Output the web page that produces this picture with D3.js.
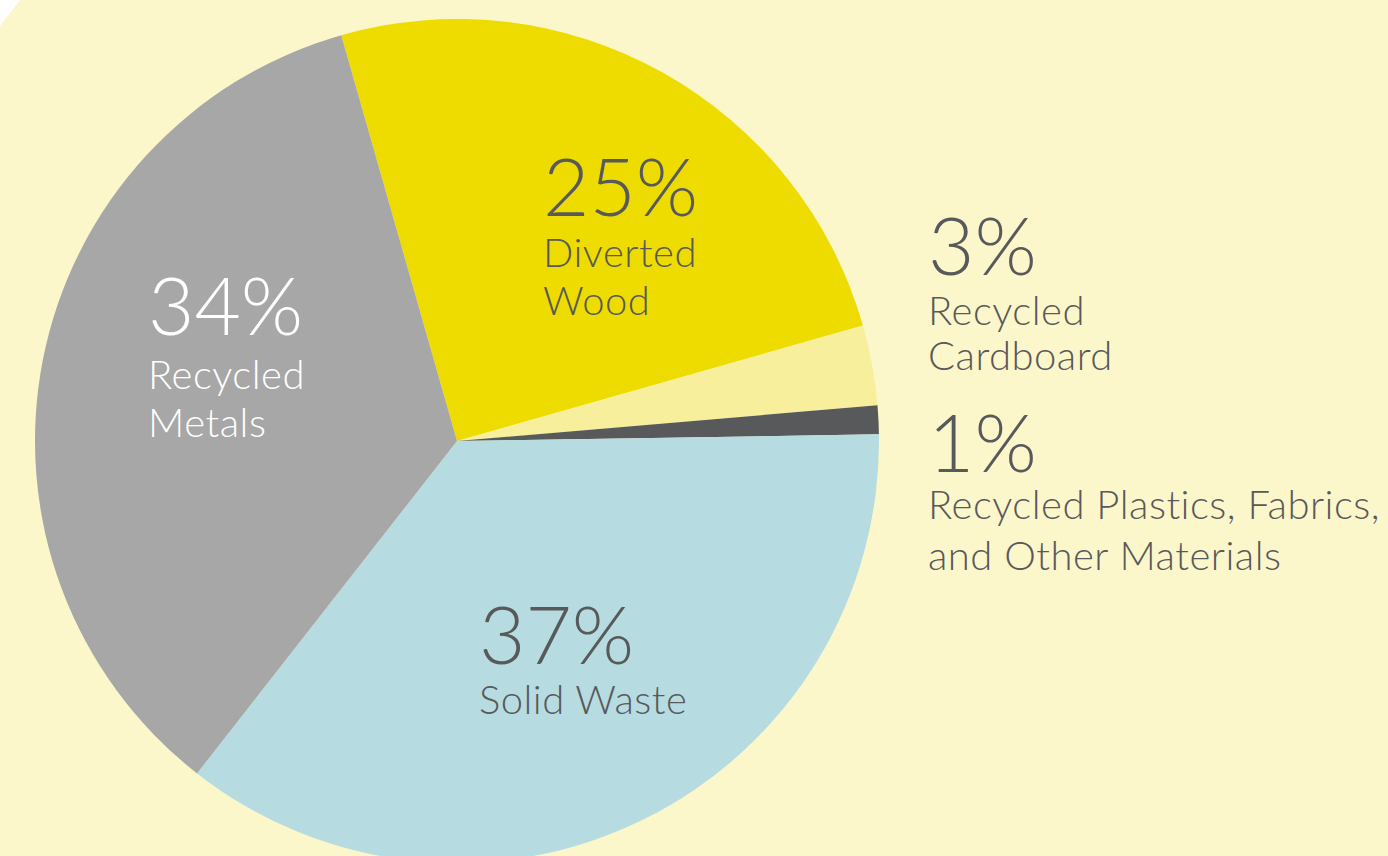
<!DOCTYPE html>
<html>
<head>
<meta charset="utf-8">
<script src="https://cdn.jsdelivr.net/npm/d3@7"></script>
<style>
  body { margin: 0; background: #fcf6cb; overflow: hidden; }
  text { font-family: Lato, "Open Sans", sans-serif; font-weight: 300; }
</style>
</head>
<body>
<svg id="main" width="1388" height="856"></svg>
<script>
// slices in drawing order, clockwise from the top-left
var categories = ["Diverted Wood", "Recycled Cardboard", "Recycled Plastics, Fabrics, and Other Materials", "Solid Waste", "Recycled Metals"];
var shares = [25, 3.06, 1.1, 35.8, 35];   // share of the circle as drawn
var pctLabels = ["25%", "3%", "1%", "37%", "34%"];
var labelLines = [
    ["Diverted", "Wood"],
    ["Recycled", "Cardboard"],
    ["Recycled Plastics, Fabrics,", "and Other Materials"],
    ["Solid Waste"],
    ["Recycled", "Metals"]
];
var colours = ["#eedc00", "#f7ef9b", "#58595b", "#b6dce1", "#a6a7a6"];

function drawPie(){
    var svg = d3.select("#main");
    var cx = 457, cy = 441, r = 422;

    // little white corner at the top left
    svg.append("path")
        .attr("d", "M0,0 L20,0 L0,26 Z")
        .attr("fill", "#ffffff");

    var data = categories.map(function(c, i){
        return {id: c, value: shares[i], pct: pctLabels[i], lines: labelLines[i]};
    });

    var pie = d3.pie()
        .sort(null)
        .value(d => d.value)
        .startAngle(-15.92 * Math.PI / 180)
        .endAngle((360 - 15.92) * Math.PI / 180);

    var arc = d3.arc().innerRadius(0).outerRadius(r);

    var g = svg.append("g").attr("transform", "translate(" + cx + "," + cy + ")");
    g.selectAll("path.slice")
        .data(pie(data))
        .enter()
        .append("path")
        .attr("class", "slice")
        .attr("d", arc)
        .attr("fill", (d, i) => colours[i]);

    // label placement: x, percent baseline, first line baseline, line step, colour
    var place = [
        {x: 543, y: 216, y1: 266.5, step: 48, fill: "#58595b"},
        {x: 928, y: 275, y1: 325, step: 45, fill: "#58595b"},
        {x: 928, y: 471.5, y1: 518.5, step: 51, fill: "#58595b"},
        {x: 479, y: 664, y1: 714, step: 48, fill: "#58595b"},
        {x: 148, y: 335, y1: 388.5, step: 48, fill: "#ffffff"}
    ];

    data.forEach(function(d, i){
        var p = place[i];
        var lg = svg.append("g").attr("class", "label");
        lg.append("text")
            .attr("x", p.x).attr("y", p.y)
            .style("font-size", "80px")
            .attr("fill", p.fill)
            .text(d.pct);
        d.lines.forEach(function(line, k){
            lg.append("text")
                .attr("x", p.x).attr("y", p.y1 + k * p.step)
                .style("font-size", "40px")
                .style("letter-spacing", "0.5px")
                .attr("fill", p.fill)
                .text(line);
        });
    });
}

drawPie();
</script>
</body>
</html>
